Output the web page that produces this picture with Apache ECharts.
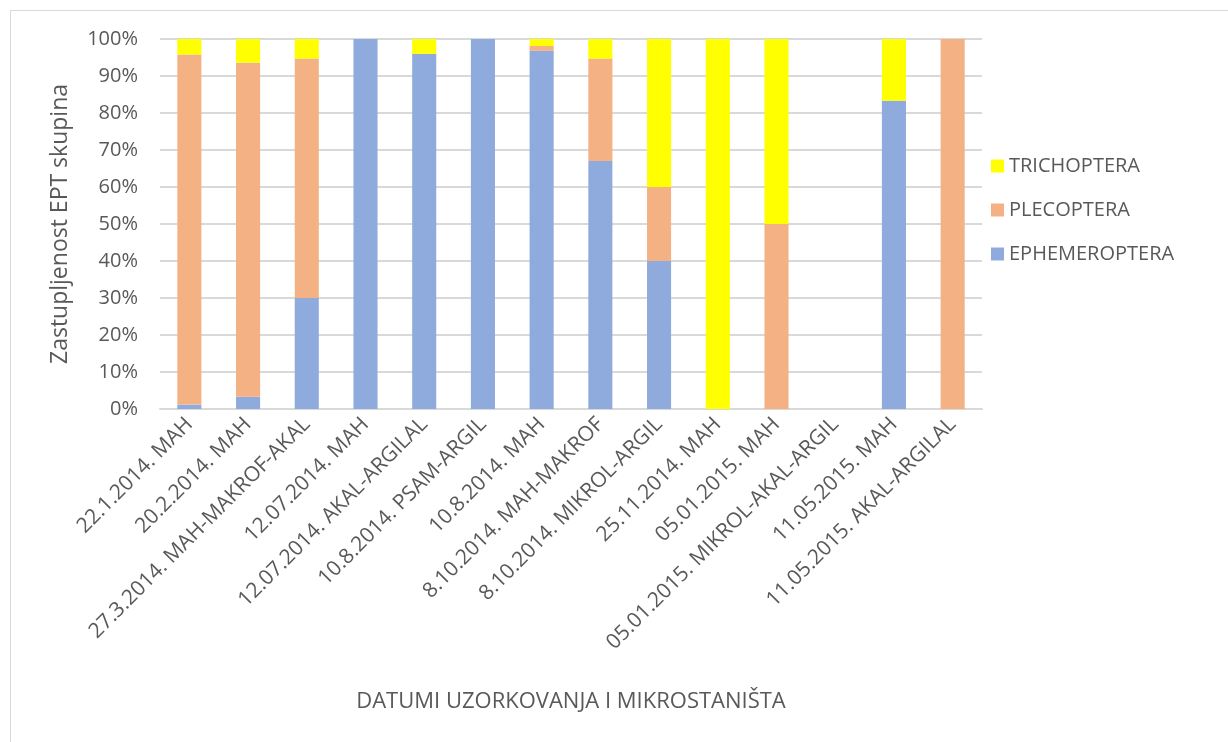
<!DOCTYPE html>
<html>
<head>
<meta charset="utf-8">
<script src="https://cdn.jsdelivr.net/npm/echarts@6/dist/echarts.min.js"></script>
<style>
html, body { margin: 0; padding: 0; background: #fff; }
#frame { position: absolute; left: 10px; top: 10px; width: 1240px; height: 760px; border: 1px solid #d9d9d9; box-sizing: border-box; }
#main { position: absolute; left: 0; top: 0; width: 1228px; height: 742px; }
</style>
</head>
<body>
<div id="frame"></div>
<div id="main"></div>
<script>
// kategorije (datum + mikrostanište)
var categories = ['22.1.2014. MAH', '20.2.2014. MAH', '27.3.2014. MAH-MAKROF-AKAL', '12.07.2014. MAH',
	'12.07.2014. AKAL-ARGILAL', '10.8.2014. PSAM-ARGIL', '10.8.2014. MAH', '8.10.2014. MAH-MAKROF',
	'8.10.2014. MIKROL-ARGIL', '25.11.2014. MAH', '05.01.2015. MAH', '05.01.2015. MIKROL-AKAL-ARGIL',
	'11.05.2015. MAH', '11.05.2015. AKAL-ARGILAL'];
// udjeli (0-1)
var ephemeroptera = [0.012, 0.033, 0.30, 1.00, 0.96, 1.00, 0.968, 0.67, 0.40, 0, 0, 0, 0.833, 0];
var plecoptera    = [0.946, 0.903, 0.647, 0, 0, 0, 0.013, 0.277, 0.20, 0, 0.50, 0, 0, 1.00];
var trichoptera   = [0.042, 0.064, 0.053, 0, 0.04, 0, 0.019, 0.053, 0.40, 1.00, 0.50, 0, 0.167, 0];

var font = "'Open Sans', 'Liberation Sans', sans-serif";
var chart = echarts.init(document.getElementById('main'));
chart.setOption({
	backgroundColor: 'transparent',
	animation: false,
	textStyle: { fontFamily: font },
	grid: {
		left: 160,
		right: 246,
		top: 39,
		bottom: 333,
		containLabel: false
	},
	legend: {
		orient: 'vertical',
		left: 986,
		top: 151,
		itemWidth: 13,
		itemHeight: 13,
		itemGap: 24,
		icon: 'rect',
		data: ['TRICHOPTERA', 'PLECOPTERA', 'EPHEMEROPTERA'],
		textStyle: { fontSize: 20, color: '#595959', fontFamily: font }
	},
	xAxis: {
		type: 'category',
		data: categories,
		name: 'DATUMI UZORKOVANJA I MIKROSTANIŠTA',
		nameLocation: 'middle',
		nameGap: 282,
		nameTextStyle: { fontSize: 22, color: '#595959' },
		axisTick: { show: false },
		axisLine: { lineStyle: { color: '#d9d9d9', width: 2 } },
		axisLabel: {
			rotate: 45,
			interval: 0,
			margin: 12,
			fontSize: 21,
			color: '#595959'
		}
	},
	yAxis: {
		type: 'value',
		min: 0,
		max: 1,
		interval: 0.1,
		name: 'Zastupljenost EPT skupina',
		nameLocation: 'middle',
		nameGap: 88,
		nameTextStyle: { fontSize: 23, color: '#595959' },
		axisLine: { show: false },
		axisTick: { show: false },
		axisLabel: {
			margin: 22,
			fontSize: 20,
			color: '#595959',
			formatter: function (v) { return Math.round(v * 100) + '%'; }
		},
		splitLine: { lineStyle: { color: '#d9d9d9', width: 2 } }
	},
	series: [{
		name: 'EPHEMEROPTERA',
		type: 'bar',
		stack: 'ept',
		barWidth: '41%',
		data: ephemeroptera,
		itemStyle: { color: '#8FAADC' }
	}, {
		name: 'PLECOPTERA',
		type: 'bar',
		stack: 'ept',
		data: plecoptera,
		itemStyle: { color: '#F4B183' }
	}, {
		name: 'TRICHOPTERA',
		type: 'bar',
		stack: 'ept',
		data: trichoptera,
		itemStyle: { color: '#FFFF00' }
	}]
});
</script>
</body>
</html>
